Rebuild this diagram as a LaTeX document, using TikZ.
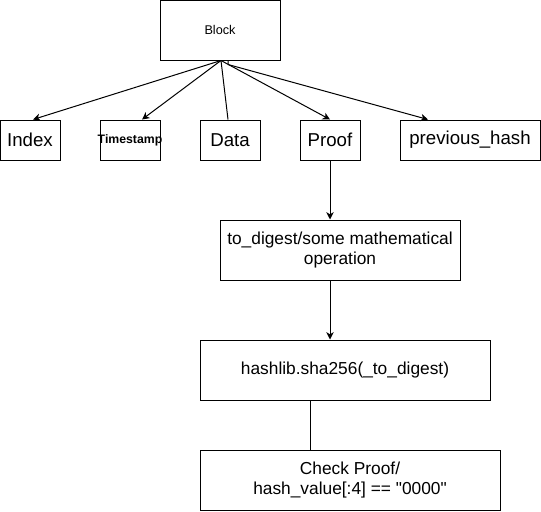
\documentclass[tikz,border=0pt]{standalone}
\usepackage{fontspec}
\setmainfont{Liberation Sans}
\newfontfamily\qfont{Liberation Sans}
\usetikzlibrary{arrows.meta}
\begin{document}
\begin{tikzpicture}[x=0.75pt,y=-0.75pt,
  box/.style={draw=black, line width=0.75pt, inner sep=0pt, align=center, font=\fontsize{13}{15.5}\selectfont},
  smallbox/.style={box, minimum width=45pt, minimum height=30pt, font=\fontsize{14}{16}\selectfont},
  conn/.style={draw=black, line width=0.75pt},
  arr/.style={conn, -{Stealth[length=5.5pt,width=5.5pt,inset=1.6pt]}}]
\useasboundingbox (0,0) rectangle (541,511);
\node[box, minimum width=90pt, minimum height=45pt, font=\fontsize{9.5}{11}\selectfont] (block) at (220,30) {Block};
\node[smallbox] (index) at (30,140) {\makebox[0pt]{Index}};
\node[smallbox] (ts) at (130,140) {\makebox[0pt]{\fontsize{9.2}{11}\selectfont\bfseries Timestamp}};
\node[smallbox] (data) at (230,140) {\makebox[0pt]{Data}};
\node[smallbox] (proof) at (330,140) {\makebox[0pt]{Proof}};
\node[smallbox, minimum width=105pt] (prev) at (470,140) {\makebox[0pt]{previous\_hash}};
\node[box, minimum width=180pt, minimum height=45pt] (todigest) at (340,250) {to\_digest/some mathematical\\operation};
\node[box, minimum width=217.5pt, minimum height=45pt] (hashlib) at (345,370) {hashlib.sha256(\_to\_digest)};
\node[box, minimum width=225pt, minimum height=45pt] (check) at (350,480) {Check Proof/\\{\qfont hash\_value[:4] == "0000"}};

\draw[arr] ([xshift=0.75pt]block.south) -- ([xshift=2.25pt]index.north);
\draw[arr] ([xshift=0.75pt]block.south) -- ([xshift=9pt]ts.north);
\draw[conn] ([xshift=0.75pt]block.south) -- ([xshift=-1.5pt]data.north);
\draw[arr] ([xshift=0.75pt]block.south) -- (proof.north);
\draw[arr] ([xshift=6pt]block.south) -- ++(0,4) -- ([xshift=-31.5pt]prev.north);
\draw[arr] (proof.south) -- (proof.south |- todigest.north);
\draw[arr] ([xshift=-7.5pt]todigest.south) -- ([xshift=-7.5pt]todigest.south |- hashlib.north);
\draw[conn] ([xshift=-26.25pt]hashlib.south) -- ([xshift=-26.25pt]hashlib.south |- check.north);
\end{tikzpicture}
\end{document}
